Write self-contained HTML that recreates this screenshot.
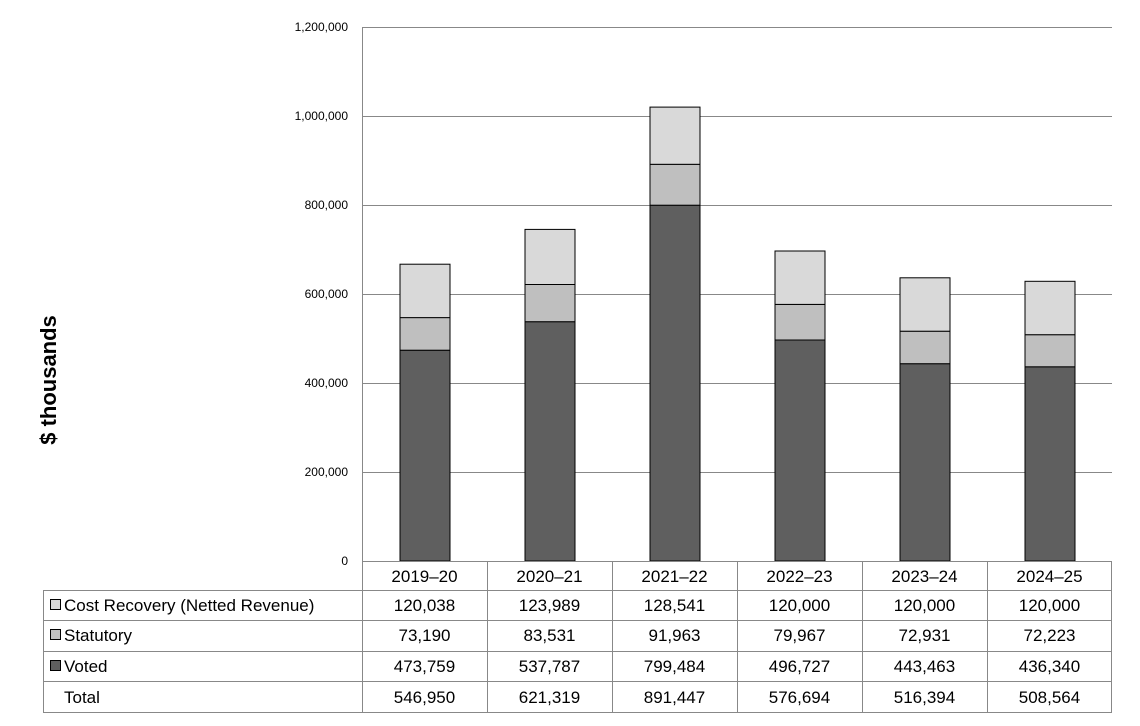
<!DOCTYPE html>
<html><head><meta charset="utf-8"><style>body{margin:0;background:#fff}svg{display:block}text{font-family:"Liberation Sans",Arial,sans-serif}</style></head><body>
<svg width="1140" height="726" xmlns="http://www.w3.org/2000/svg">
<rect width="1140" height="726" fill="#fff"/>
<g stroke="#888" stroke-width="1">
<line x1="362" y1="27.5" x2="1112" y2="27.5"/>
<line x1="362" y1="116.5" x2="1112" y2="116.5"/>
<line x1="362" y1="205.5" x2="1112" y2="205.5"/>
<line x1="362" y1="294.5" x2="1112" y2="294.5"/>
<line x1="362" y1="383.5" x2="1112" y2="383.5"/>
<line x1="362" y1="472.5" x2="1112" y2="472.5"/>
<line x1="362.5" y1="27" x2="362.5" y2="561"/>
</g>
<g font-size="12" text-anchor="end" fill="#000">
<text x="348" y="31">1,200,000</text><text x="348" y="120">1,000,000</text><text x="348" y="209">800,000</text><text x="348" y="298">600,000</text><text x="348" y="387">400,000</text><text x="348" y="476">200,000</text><text x="348" y="565">0</text>
</g>
<text transform="translate(56,380) rotate(-90)" font-size="22" font-weight="bold" text-anchor="middle">$ thousands</text>
<g stroke="#000" stroke-width="1">
<!-- bars: x, voted, stat, cost -->
<rect x="400" y="350.2" width="50" height="210.8" fill="#5f5f5f"/><rect x="400" y="317.6" width="50" height="32.6" fill="#bfbfbf"/><rect x="400" y="264.2" width="50" height="53.4" fill="#d9d9d9"/>
<rect x="525" y="321.7" width="50" height="239.3" fill="#5f5f5f"/><rect x="525" y="284.5" width="50" height="37.2" fill="#bfbfbf"/><rect x="525" y="229.4" width="50" height="55.1" fill="#d9d9d9"/>
<rect x="650" y="205.2" width="50" height="355.8" fill="#5f5f5f"/><rect x="650" y="164.3" width="50" height="40.9" fill="#bfbfbf"/><rect x="650" y="107.1" width="50" height="57.2" fill="#d9d9d9"/>
<rect x="775" y="340" width="50" height="221" fill="#5f5f5f"/><rect x="775" y="304.4" width="50" height="35.6" fill="#bfbfbf"/><rect x="775" y="251" width="50" height="53.4" fill="#d9d9d9"/>
<rect x="900" y="363.7" width="50" height="197.3" fill="#5f5f5f"/><rect x="900" y="331.2" width="50" height="32.5" fill="#bfbfbf"/><rect x="900" y="277.8" width="50" height="53.4" fill="#d9d9d9"/>
<rect x="1025" y="366.8" width="50" height="194.2" fill="#5f5f5f"/><rect x="1025" y="334.7" width="50" height="32.1" fill="#bfbfbf"/><rect x="1025" y="281.3" width="50" height="53.4" fill="#d9d9d9"/>
</g>
<g stroke="#888" stroke-width="1" fill="none">
<line x1="362" y1="561.5" x2="1112" y2="561.5"/>
<line x1="43" y1="590.5" x2="1112" y2="590.5"/>
<line x1="43" y1="620.5" x2="1112" y2="620.5"/>
<line x1="43" y1="651.5" x2="1112" y2="651.5"/>
<line x1="43" y1="681.5" x2="1112" y2="681.5"/>
<line x1="43" y1="712.5" x2="1112" y2="712.5"/>
<line x1="43.5" y1="590" x2="43.5" y2="712"/>
<line x1="362.5" y1="561" x2="362.5" y2="712"/>
<line x1="487.5" y1="561" x2="487.5" y2="712"/>
<line x1="612.5" y1="561" x2="612.5" y2="712"/>
<line x1="737.5" y1="561" x2="737.5" y2="712"/>
<line x1="862.5" y1="561" x2="862.5" y2="712"/>
<line x1="987.5" y1="561" x2="987.5" y2="712"/>
<line x1="1111.5" y1="561" x2="1111.5" y2="712"/>
</g>
<g stroke="#000" stroke-width="1">
<rect x="50.5" y="599.5" width="10" height="10" fill="#d9d9d9"/>
<rect x="50.5" y="629.5" width="10" height="10" fill="#bfbfbf"/>
<rect x="50.5" y="660.5" width="10" height="10" fill="#5f5f5f"/>
</g>
<g font-size="17">
<text x="64" y="611">Cost Recovery (Netted Revenue)</text>
<text x="64" y="641">Statutory</text>
<text x="64" y="672">Voted</text>
<text x="64" y="703">Total</text>
</g>
<g font-size="17" text-anchor="middle">
<text x="424.5" y="582">2019–20</text><text x="549.5" y="582">2020–21</text><text x="674.5" y="582">2021–22</text><text x="799.5" y="582">2022–23</text><text x="924.5" y="582">2023–24</text><text x="1049.5" y="582">2024–25</text>
<text x="424.5" y="611">120,038</text><text x="549.5" y="611">123,989</text><text x="674.5" y="611">128,541</text><text x="799.5" y="611">120,000</text><text x="924.5" y="611">120,000</text><text x="1049.5" y="611">120,000</text>
<text x="424.5" y="641">73,190</text><text x="549.5" y="641">83,531</text><text x="674.5" y="641">91,963</text><text x="799.5" y="641">79,967</text><text x="924.5" y="641">72,931</text><text x="1049.5" y="641">72,223</text>
<text x="424.5" y="672">473,759</text><text x="549.5" y="672">537,787</text><text x="674.5" y="672">799,484</text><text x="799.5" y="672">496,727</text><text x="924.5" y="672">443,463</text><text x="1049.5" y="672">436,340</text>
<text x="424.5" y="703">546,950</text><text x="549.5" y="703">621,319</text><text x="674.5" y="703">891,447</text><text x="799.5" y="703">576,694</text><text x="924.5" y="703">516,394</text><text x="1049.5" y="703">508,564</text>
</g>
</svg>
</body></html>
